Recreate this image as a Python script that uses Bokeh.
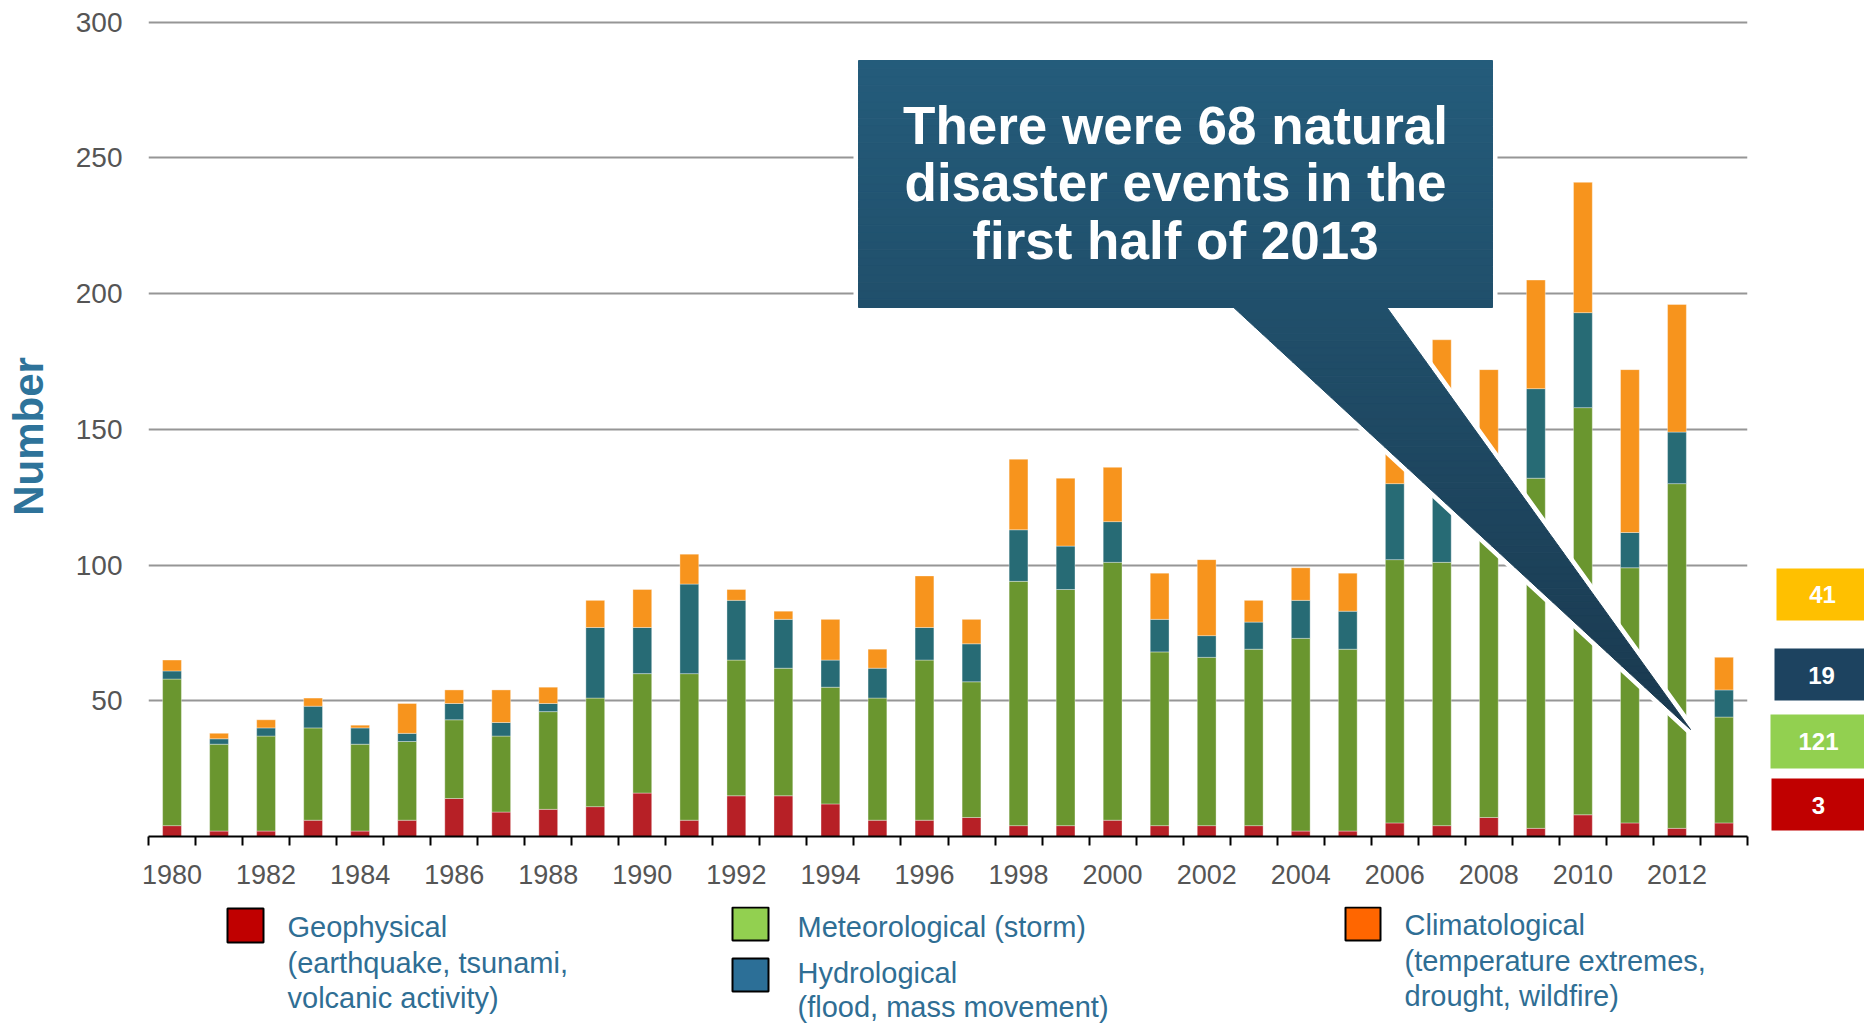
import math
from bokeh.plotting import figure
from bokeh.layouts import column, row
from bokeh.models import ColumnDataSource, FixedTicker, Range1d
from bokeh.core.properties import value
from bokeh.embed import file_html
from bokeh.resources import INLINE

# ---------------- data ----------------
years = list(range(1980, 2014))
geophysical = [4, 2, 2, 6, 2, 6, 14, 9, 10, 11,
               16, 6, 15, 15, 12, 6, 6, 7, 4, 4,
               6, 4, 4, 4, 2, 2, 5, 4, 7, 3,
               8, 5, 3, 5]
meteorological = [54, 32, 35, 34, 32, 29, 29, 28, 36, 40,
                  44, 54, 50, 47, 43, 45, 59, 50, 90, 87,
                  95, 64, 62, 65, 71, 67, 97, 97, 103, 129,
                  150, 94, 127, 39]
hydrological = [3, 2, 3, 8, 6, 3, 6, 5, 3, 26,
                17, 33, 22, 18, 10, 11, 12, 14, 19, 16,
                15, 12, 8, 10, 14, 14, 28, 32, 22, 33,
                35, 13, 19, 10]
climatological = [4, 2, 3, 3, 1, 11, 5, 12, 6, 10,
                  14, 11, 4, 3, 15, 7, 19, 9, 26, 25,
                  20, 17, 28, 8, 12, 14, 20, 50, 40, 40,
                  48, 60, 47, 12]
x_tick_years = list(range(1980, 2013, 2))
y_ticks = [50, 100, 150, 200, 250, 300]
side_values = ["41", "19", "121", "3"]
callout_lines = ["There were 68 natural", "disaster events in the", "first half of 2013"]
legend_items = [
    ["Geophysical", "(earthquake, tsunami,", "volcanic activity)"],
    ["Meteorological (storm)"],
    ["Hydrological", "(flood, mass movement)"],
    ["Climatological", "(temperature extremes,", "drought, wildfire)"],
]

# ---------------- style / layout ----------------
BAR_COLORS = ["#B72026", "#6A962F", "#276B75", "#F7941D"]
LEG_COLORS = ["#C00000", "#92D050", "#2C6F97", "#FF6600"]
SIDE_COLORS = ["#FFC000", "#1D4360", "#92D050", "#C00000"]
TEXT_BLUE = "#2F6E94"
FONT = "Liberation Sans"

TOTAL_W, TOTAL_H = 1864, 1023
LEFT_W = 68
TOP_H = 906
MAIN_X0 = LEFT_W
FL, FR, FT, FB = 148, 1747, 20, 836          # frame in page px
MAIN_W = FR + 2 - MAIN_X0
RIGHT_X0 = MAIN_X0 + MAIN_W
RIGHT_W = TOTAL_W - RIGHT_X0
X0, X1 = 1979.5, 2013.5
PX_PER_UNIT = (836 - 21.7) / 300.0
Y1 = (FB - FT) / PX_PER_UNIT


def cx(px):  # page px -> data x (main figure)
    return X0 + (px - FL) * (X1 - X0) / (FR - FL)


def cy(py):  # page py -> data y (main figure)
    return (FB - py) / PX_PER_UNIT


def px_fig(x0, w, h, top, bottom):
    """Figure whose data coords equal page px; frame spans page y top..bottom."""
    f = figure(width=w, height=h, x_range=Range1d(x0, x0 + w), y_range=Range1d(bottom, top),
               min_border_left=0, min_border_right=0, min_border_top=top,
               min_border_bottom=h - bottom if top == 0 else (h - (bottom - top) - top),
               x_axis_location=None, y_axis_location=None,
               output_backend="svg", toolbar_location=None)
    f.outline_line_color = None
    f.xgrid.visible = False
    f.ygrid.visible = False
    f.background_fill_color = "white"
    f.border_fill_color = "white"
    return f


src = ColumnDataSource(dict(year=years, geo=geophysical, met=meteorological,
                            hyd=hydrological, clim=climatological))

p = figure(width=MAIN_W, height=TOP_H, x_range=Range1d(X0, X1), y_range=Range1d(0, Y1),
           min_border_left=FL - MAIN_X0, min_border_right=MAIN_X0 + MAIN_W - FR,
           min_border_top=FT, min_border_bottom=TOP_H - FB,
           output_backend="svg", toolbar_location=None)
p.outline_line_color = None
p.background_fill_color = "white"
p.border_fill_color = "white"

p.vbar_stack(["geo", "met", "hyd", "clim"], x="year", width=0.4, source=src,
             fill_color=BAR_COLORS, line_color="white", line_alpha=0.35, line_width=1)

p.xgrid.grid_line_color = None
p.ygrid.grid_line_color = "#969696"
p.ygrid.grid_line_width = 2

p.yaxis.ticker = FixedTicker(ticks=y_ticks)
p.yaxis.axis_line_color = None
p.yaxis.major_tick_line_color = None
p.yaxis.minor_tick_line_color = None
p.yaxis.major_tick_out = 0
p.yaxis.major_label_standoff = 26
p.yaxis.major_label_text_font = FONT
p.yaxis.major_label_text_font_size = "28px"
p.yaxis.major_label_text_color = "#555555"

p.xaxis.ticker = FixedTicker(ticks=x_tick_years,
                             minor_ticks=[y - 0.5 for y in years] + [years[-1] + 0.5])
p.xaxis.axis_line_color = "black"
p.xaxis.axis_line_width = 2
p.xaxis.major_tick_line_color = None
p.xaxis.major_tick_out = 0
p.xaxis.major_tick_in = 0
p.xaxis.minor_tick_line_color = "black"
p.xaxis.minor_tick_line_width = 2
p.xaxis.minor_tick_out = 9
p.xaxis.minor_tick_in = 0
p.xaxis.major_label_standoff = 19
p.xaxis.major_label_text_font = FONT
p.xaxis.major_label_text_font_size = "27px"
p.xaxis.major_label_text_color = "#555555"

# ---------------- callout ----------------
bx0, by0, bx1, by1 = cx(858), cy(60), cx(1492), cy(307)
tl, tr, tip = (cx(1231), cy(305)), (cx(1385), cy(305)), (cx(1690), cy(729))

p.patch([tl[0], tr[0], tip[0]], [tl[1], tr[1], tip[1]], fill_color="white",
        line_color="white", line_width=10, line_join="round")
p.quad(left=[bx0], right=[bx1], top=[by0], bottom=[by1], fill_color="white",
       line_color="white", line_width=10)

c_top = (0x24, 0x5C, 0x7B)
c_bot = (0x1A, 0x39, 0x4F)


def grad(yv):
    t = (by0 - yv) / (by0 - tip[1])
    t = min(max(t, 0), 1)
    r, g, b = [int(round(a + (bb - a) * t)) for a, bb in zip(c_top, c_bot)]
    return "#%02x%02x%02x" % (r, g, b)


N = 30
qs = dict(left=[], right=[], top=[], bottom=[], color=[])
for i in range(N):
    ya = by0 - (by0 - by1) * i / N
    yb = by0 - (by0 - by1) * (i + 1) / N
    qs["left"].append(bx0); qs["right"].append(bx1)
    qs["top"].append(ya); qs["bottom"].append(yb)
    qs["color"].append(grad((ya + yb) / 2))
p.quad(left="left", right="right", top="top", bottom="bottom", fill_color="color",
       line_color="color", line_width=1, source=ColumnDataSource(qs))

M = 60
xs, ys, cols = [], [], []
ybase = tl[1]
for i in range(M):
    ya = ybase - (ybase - tip[1]) * i / M
    yb = ybase - (ybase - tip[1]) * (i + 1) / M
    fa = (ybase - ya) / (ybase - tip[1])
    fb = (ybase - yb) / (ybase - tip[1])
    xla = tl[0] + (tip[0] - tl[0]) * fa
    xra = tr[0] + (tip[0] - tr[0]) * fa
    xlb = tl[0] + (tip[0] - tl[0]) * fb
    xrb = tr[0] + (tip[0] - tr[0]) * fb
    xs.append([xla, xra, xrb, xlb]); ys.append([ya, ya, yb, yb])
    cols.append(grad((ya + yb) / 2))
p.patches("xs", "ys", fill_color="cols", line_color="cols", line_width=1,
          source=ColumnDataSource(dict(xs=xs, ys=ys, cols=cols)))

line_y = [125, 182, 240]
p.text(x=[cx(1175)] * 3, y=[cy(v) for v in line_y], text=callout_lines,
       text_font=value(FONT), text_font_size="53px", text_font_style="bold",
       text_color="white", text_align="center", text_baseline="middle")

# ---------------- left: axis title ----------------
left = figure(width=LEFT_W, height=TOP_H, x_range=Range1d(0, LEFT_W), y_range=Range1d(FB, FT),
              min_border_left=0, min_border_right=0, min_border_top=FT,
              min_border_bottom=TOP_H - FB, x_axis_location=None, y_axis_location=None,
              output_backend="svg", toolbar_location=None)
right = figure(width=RIGHT_W, height=TOP_H, x_range=Range1d(RIGHT_X0, TOTAL_W),
               y_range=Range1d(FB, FT), min_border_left=0, min_border_right=0,
               min_border_top=FT, min_border_bottom=TOP_H - FB,
               x_axis_location=None, y_axis_location=None,
               output_backend="svg", toolbar_location=None)
legend = figure(width=TOTAL_W, height=TOTAL_H - TOP_H, x_range=Range1d(0, TOTAL_W),
                y_range=Range1d(TOTAL_H, TOP_H), min_border=0,
                x_axis_location=None, y_axis_location=None,
                output_backend="svg", toolbar_location=None)
for f in (left, right, legend):
    f.outline_line_color = None
    f.xgrid.visible = False
    f.ygrid.visible = False
    f.background_fill_color = "white"
    f.border_fill_color = "white"

left.text(x=[28], y=[436], text=["Number"], angle=math.pi / 2,
          text_font=value(FONT), text_font_size="42px", text_font_style="bold",
          text_color="#2E739A", text_align="center", text_baseline="middle")

# ---------------- right: side boxes ----------------
side_boxes = [(1776, 568, 620, 1822, 594), (1774, 648, 700, 1821, 675),
              (1770, 714, 768, 1818, 741), (1771, 778, 830, 1818, 805)]
right.quad(left=[b[0] for b in side_boxes], right=[TOTAL_W + 5] * 4,
           top=[b[1] for b in side_boxes], bottom=[b[2] for b in side_boxes],
           fill_color=SIDE_COLORS, line_color=None)
right.text(x=[b[3] for b in side_boxes], y=[b[4] for b in side_boxes], text=side_values,
           text_font=value(FONT), text_font_size="24px", text_font_style="bold",
           text_color="white", text_align="center", text_baseline="middle")

# ---------------- bottom: legend ----------------
leg_pos = [((227, 908, 263, 942), 287, [926, 962, 997]),
           ((732, 907, 768, 940), 797, [926]),
           ((732, 958, 768, 991), 797, [972, 1006]),
           ((1345, 907, 1380, 940), 1404, [924, 960, 995])]
legend.quad(left=[lp[0][0] for lp in leg_pos], right=[lp[0][2] for lp in leg_pos],
            top=[lp[0][1] for lp in leg_pos], bottom=[lp[0][3] for lp in leg_pos],
            fill_color=LEG_COLORS, line_color="black", line_width=2)
tx, ty, tt = [], [], []
for (sq, x0, ys_), lines in zip(leg_pos, legend_items):
    for txt, yy in zip(lines, ys_):
        tx.append(x0); ty.append(yy); tt.append(txt)
legend.text(x=tx, y=ty, text=tt, text_font=value(FONT), text_font_size="29px",
            text_color=TEXT_BLUE, text_align="left", text_baseline="middle")

layout = column(row(left, p, right), legend)
open("out.html", "w").write(file_html(layout, INLINE))
